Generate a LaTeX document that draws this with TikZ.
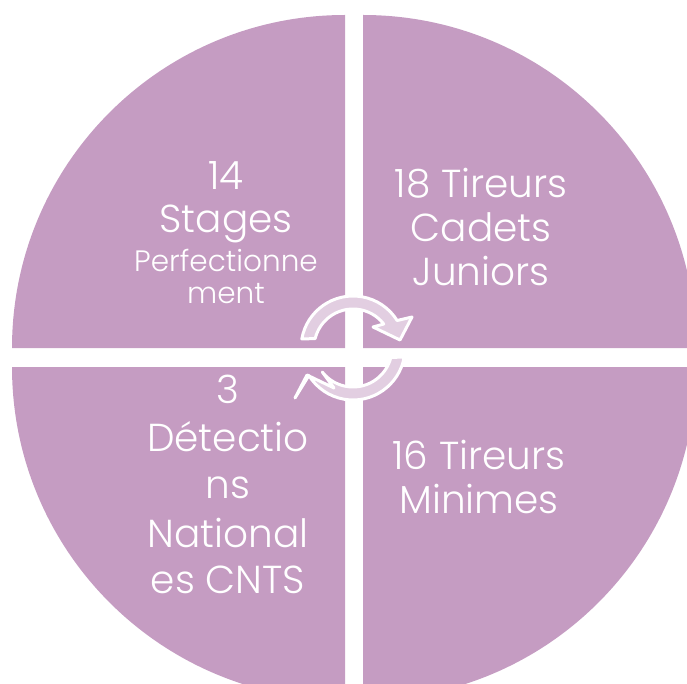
\documentclass[tikz,border=0pt]{standalone}
\usepackage{fontspec}
\setmainfont{Poppins}[UprightFont=* Light]
\usetikzlibrary{calc}
\definecolor{quad}{RGB}{197,156,194}
\definecolor{arrowfill}{RGB}{226,206,225}
\begin{document}
\begin{tikzpicture}[x=1pt,y=-1pt,
  quadfill/.style={fill=quad},
  cyclearrow/.style={fill=arrowfill, draw=white, line width=3pt, line join=round},
  bigtxt/.style={text=white, anchor=base, inner sep=0pt, font=\fontsize{39}{44}\selectfont},
  smalltxt/.style={text=white, anchor=base, inner sep=0pt, font=\fontsize{29.5}{32}\selectfont}]
\useasboundingbox (0,0) rectangle (687,684);
\clip (0,0) rectangle (687,684);
% quadrants
\fill[quadfill] (345,348) -- (12,348) arc[start angle=180, end angle=270, radius=333] -- cycle;
\fill[quadfill] (363,348) -- (363,15) arc[start angle=270, end angle=360, radius=333] -- cycle;
\fill[quadfill] (363,367) -- (696,367) arc[start angle=0, end angle=90, radius=333] -- cycle;
\fill[quadfill] (345,367) -- (345,700) arc[start angle=90, end angle=180, radius=333] -- cycle;
% circular arrows
\coordinate (ac) at (353,348);
\draw[cyclearrow] ($(ac)+(-166:39)$) -- ($(ac)+(-170:52)$) arc[start angle=-170, end angle=-31.9, radius=52]
  -- (412,317) -- (400,340) -- (373,327) -- ($(ac)+(-38:39)$) arc[start angle=-38, end angle=-166, radius=39] -- cycle;
\begin{scope}[rotate around={180:(353.5,357.5)}]
\draw[cyclearrow] ($(ac)+(-166:39)$) -- ($(ac)+(-170:52)$) arc[start angle=-170, end angle=-31.9, radius=52]
  -- (412,317) -- (400,340) -- (373,327) -- ($(ac)+(-38:39)$) arc[start angle=-38, end angle=-166, radius=39] -- cycle;
\end{scope}
% texts
\node[bigtxt] (tl1) at (226,190) {14};
\node[bigtxt] (tl2) at (226,233) {Stages};
\node[smalltxt] (tl3) at (226,272) {Perfectionne};
\node[smalltxt] (tl4) at (226,303) {ment};
\node[bigtxt] (tr1) at (481,198) {18 Tireurs};
\node[bigtxt] (tr2) at (481,242) {Cadets};
\node[bigtxt] (tr3) at (481,285) {Juniors};
\node[bigtxt] (bl1) at (228,403) {3};
\node[bigtxt] (bl2) at (228,451) {Détectio};
\node[bigtxt] (bl3) at (228,498) {ns};
\node[bigtxt] (bl4) at (228,547) {National};
\node[bigtxt] (bl5) at (228,593) {es CNTS};
\node[bigtxt] (br1) at (479,469) {16 Tireurs};
\node[bigtxt] (br2) at (479,513) {Minimes};
\end{tikzpicture}
\end{document}
